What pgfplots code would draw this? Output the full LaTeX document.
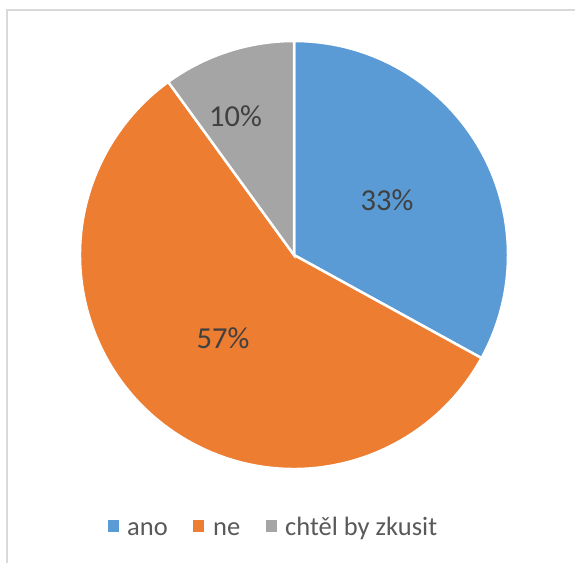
\documentclass[border=0pt]{standalone}
\usepackage{pgfplots}
\pgfplotsset{compat=1.18}
\usepackage{fontspec}
\setmainfont{Carlito}

\definecolor{cano}{HTML}{5B9BD5}
\definecolor{cne}{HTML}{ED7D31}
\definecolor{czk}{HTML}{A5A5A5}
\definecolor{frame}{HTML}{D9D9D9}
\definecolor{lbl}{HTML}{404040}
\definecolor{leg}{HTML}{595959}

% shares in percent
\def\vano{33}
\def\vne{57}
\def\vzk{10}
\pgfmathsetmacro\aA{90}
\pgfmathsetmacro\aB{\aA-3.6*\vano}
\pgfmathsetmacro\aC{\aB-3.6*\vne}
\pgfmathsetmacro\aD{\aC-3.6*\vzk}

\begin{document}
\begin{tikzpicture}
\begin{axis}[
    width=575pt, height=563pt,
    scale only axis,
    xmin=0, xmax=575, ymin=0, ymax=563,
    hide axis,
    clip=false,
]
\coordinate (bl) at (axis cs:0,0);
\coordinate (tr) at (axis cs:575,563);
% chart frame (only top and left edges visible)
\draw[frame, line width=1.5pt] (axis cs:7,0) -- (axis cs:7,553) -- (axis cs:575,553);

% slices
\fill[cano, draw=white, line width=2.5pt] (axis cs:294,308) -- ++(\aA:214pt)
    arc[start angle=\aA, end angle=\aB, radius=214pt] -- cycle;
\fill[cne, draw=white, line width=2.5pt] (axis cs:294,308) -- ++(\aB:214pt)
    arc[start angle=\aB, end angle=\aC, radius=214pt] -- cycle;
\fill[czk, draw=white, line width=2.5pt] (axis cs:294,308) -- ++(\aC:214pt)
    arc[start angle=\aC, end angle=\aD, radius=214pt] -- cycle;

% data labels
\node[lbl, font=\fontsize{30.5}{36}\selectfont, inner sep=0pt] at (axis cs:387,363) {\vano\%};
\node[lbl, font=\fontsize{30.5}{36}\selectfont, inner sep=0pt] at (axis cs:223,225) {\vne\%};
\node[lbl, font=\fontsize{30.5}{36}\selectfont, inner sep=0pt] at (axis cs:235.5,447) {\vzk\%};

% legend
\fill[cano] (axis cs:108,31) rectangle (axis cs:119,43);
\node[leg, font=\fontsize{26.5}{30}\selectfont, anchor=base west, inner sep=0pt] at (axis cs:127,28) {ano};
\fill[cne] (axis cs:193,31) rectangle (axis cs:204,43);
\node[leg, font=\fontsize{26.5}{30}\selectfont, anchor=base west, inner sep=0pt] at (axis cs:213,28) {ne};
\fill[czk] (axis cs:266,31) rectangle (axis cs:277,43);
\node[leg, font=\fontsize{26.5}{30}\selectfont, anchor=base west, inner sep=0pt] at (axis cs:285,28) {chtěl by zkusit};
\end{axis}
\pgfresetboundingbox
\path (bl) rectangle (tr);
\end{tikzpicture}
\end{document}
